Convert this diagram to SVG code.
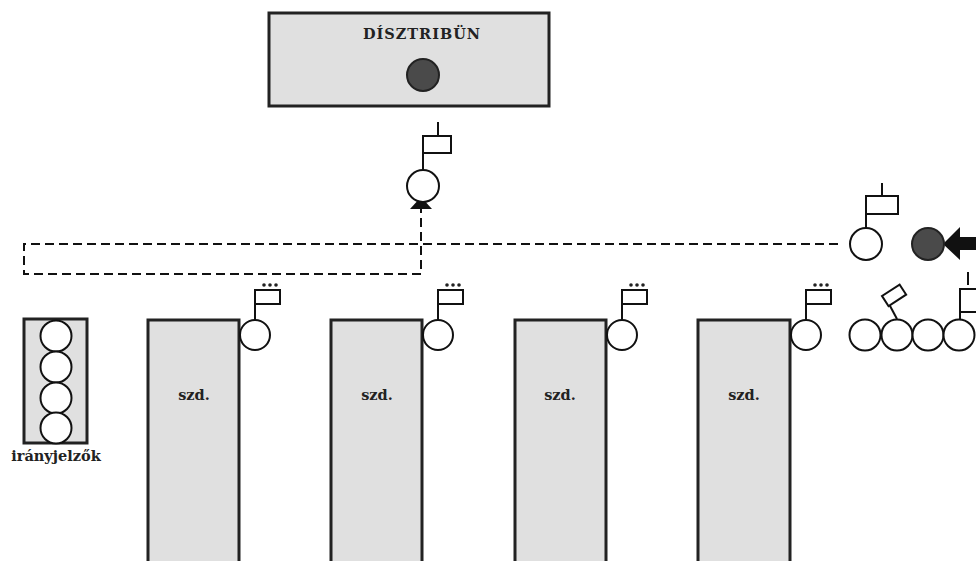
<svg xmlns="http://www.w3.org/2000/svg" width="976" height="561" viewBox="0 0 976 561">
<style>
.box{fill:#e0e0e0;stroke:#222;stroke-width:3}
.c{fill:#fff;stroke:#111;stroke-width:2}
.dk{fill:#4a4a4a;stroke:#222;stroke-width:2}
.ln{fill:none;stroke:#111;stroke-width:2}
.fl{fill:#fff;stroke:#111;stroke-width:2}
.dash{fill:none;stroke:#111;stroke-width:2;stroke-dasharray:9,5}
.t{font-family:"DejaVu Serif","Liberation Serif",serif;font-weight:bold;fill:#222}
.dot{fill:#222}
</style>
<rect width="976" height="561" fill="#fff"/>
<g id="disztribun">
<rect class="box" x="269" y="13" width="280" height="93"/>
<text class="t" x="422" y="39" font-size="14.5" letter-spacing="1" text-anchor="middle">DÍSZTRIBÜN</text>
<circle class="dk" cx="423" cy="75" r="16"/>
</g>
<g id="connectors">
<path class="dash" d="M838,244 H24 V274 H421 V209"/>
<polygon points="421,197 410,209 432,209" fill="#111"/>
<polygon points="943,244 960,227 960,260" fill="#111"/>
<rect x="959" y="237" width="17" height="13" fill="#111"/>
</g>
<g id="entry-signal">
<line class="ln" x1="438" y1="122" x2="438" y2="136"/>
<rect class="fl" x="423" y="136" width="28" height="17"/>
<line class="ln" x1="423" y1="136" x2="423" y2="170"/>
<circle class="c" cx="423" cy="186" r="16"/>
</g>
<g id="right-signal">
<line class="ln" x1="882" y1="183" x2="882" y2="196"/>
<rect class="fl" x="866" y="196" width="32" height="18"/>
<line class="ln" x1="866" y1="196" x2="866" y2="228"/>
<circle class="c" cx="866" cy="244" r="16"/>
</g>
<g id="dark-signal">
<circle class="dk" cx="928" cy="244" r="16"/>
</g>
<g id="iranyjelzok">
<rect class="box" x="24" y="319" width="63" height="124"/>
<circle class="c" cx="56" cy="336" r="15.5"/>
<circle class="c" cx="56" cy="367" r="15.5"/>
<circle class="c" cx="56" cy="398" r="15.5"/>
<circle class="c" cx="56" cy="428" r="15.5"/>
<text class="t" x="56" y="461" font-size="14.5" text-anchor="middle">irányjelzők</text>
</g>
<g id="szd1">
<path class="box" d="M148,563 V320 H239 V563"/>
<text class="t" x="194" y="400" font-size="14.5" text-anchor="middle">szd.</text>
<circle class="c" cx="255" cy="335" r="15"/>
<line class="ln" x1="255" y1="290" x2="255" y2="320"/>
<rect class="fl" x="255" y="290" width="25" height="14"/>
<circle class="dot" cx="264" cy="285" r="1.8"/><circle class="dot" cx="270" cy="285" r="1.8"/><circle class="dot" cx="276" cy="285" r="1.8"/>
</g>
<g id="szd2">
<path class="box" d="M331,563 V320 H422 V563"/>
<text class="t" x="377" y="400" font-size="14.5" text-anchor="middle">szd.</text>
<circle class="c" cx="438" cy="335" r="15"/>
<line class="ln" x1="438" y1="290" x2="438" y2="320"/>
<rect class="fl" x="438" y="290" width="25" height="14"/>
<circle class="dot" cx="447" cy="285" r="1.8"/><circle class="dot" cx="453" cy="285" r="1.8"/><circle class="dot" cx="459" cy="285" r="1.8"/>
</g>
<g id="szd3">
<path class="box" d="M515,563 V320 H606 V563"/>
<text class="t" x="560" y="400" font-size="14.5" text-anchor="middle">szd.</text>
<circle class="c" cx="622" cy="335" r="15"/>
<line class="ln" x1="622" y1="290" x2="622" y2="320"/>
<rect class="fl" x="622" y="290" width="25" height="14"/>
<circle class="dot" cx="631" cy="285" r="1.8"/><circle class="dot" cx="637" cy="285" r="1.8"/><circle class="dot" cx="643" cy="285" r="1.8"/>
</g>
<g id="szd4">
<path class="box" d="M698,563 V320 H790 V563"/>
<text class="t" x="744" y="400" font-size="14.5" text-anchor="middle">szd.</text>
<circle class="c" cx="806" cy="335" r="15"/>
<line class="ln" x1="806" y1="290" x2="806" y2="320"/>
<rect class="fl" x="806" y="290" width="25" height="14"/>
<circle class="dot" cx="815" cy="285" r="1.8"/><circle class="dot" cx="821" cy="285" r="1.8"/><circle class="dot" cx="827" cy="285" r="1.8"/>
</g>
<g id="signal-row">
<circle class="c" cx="865" cy="335" r="15.5"/>
<circle class="c" cx="897" cy="335" r="15.5"/>
<circle class="c" cx="928" cy="335" r="15.5"/>
<circle class="c" cx="959" cy="335" r="15.5"/>
<line class="ln" x1="897" y1="319" x2="889" y2="304"/>
<rect class="fl" x="0" y="0" width="21" height="12" transform="translate(882,296) rotate(-33)"/>
<line class="ln" x1="960" y1="289" x2="960" y2="319"/>
<rect class="fl" x="960" y="289" width="24" height="23"/>
<line class="ln" x1="968" y1="272" x2="968" y2="285"/>
</g>
</svg>
